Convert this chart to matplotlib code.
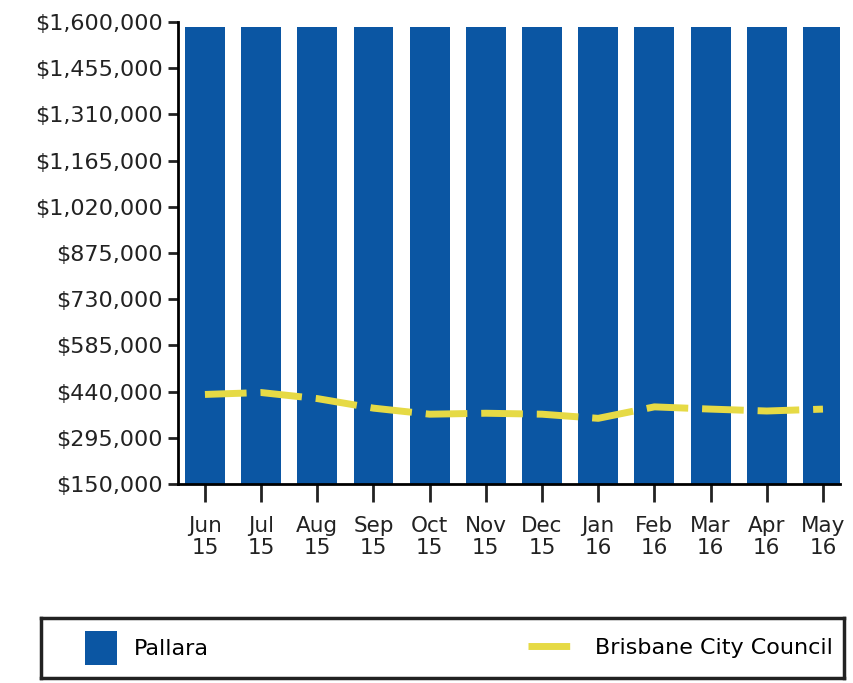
import numpy as np
from matplotlib import pyplot as plt
from matplotlib.ticker import FuncFormatter

months = ['Jun\n15', 'Jul\n15', 'Aug\n15', 'Sep\n15', 'Oct\n15', 'Nov\n15',
          'Dec\n15', 'Jan\n16', 'Feb\n16', 'Mar\n16', 'Apr\n16', 'May\n16']
pallara = [1585000] * 12
brisbane = [431000, 437000, 418000, 388000, 369000, 372000,
            369000, 356000, 392000, 385000, 379000, 385000]
yticks = list(range(150000, 1600001, 145000))

fig = plt.figure(figsize=(8.54, 6.83), dpi=100)
ax = fig.add_axes([0.2084, 0.2914, 0.775, 0.6764])

x = np.arange(len(months))
bars = ax.bar(x, pallara, width=0.71, color='#0b56a3', zorder=2)
line, = ax.plot(x, brisbane, color='#e6da45', lw=5, dashes=(6, 2), zorder=3)

ax.set_ylim(150000, 1600000)
ax.set_xlim(-0.48, 11.3)
ax.set_yticks(yticks)
ax.yaxis.set_major_formatter(FuncFormatter(lambda v, p: '${:,.0f}'.format(v)))
ax.set_xticks(x)
ax.set_xticklabels(months, linespacing=1.1)

for s in ['top', 'right']:
    ax.spines[s].set_visible(False)
for s in ['left', 'bottom']:
    ax.spines[s].set_linewidth(2)
ax.tick_params(axis='y', length=7, width=2, labelsize=16, pad=4, colors='#222222')
ax.tick_params(axis='x', length=13, width=2, labelsize=15.5, pad=10, colors='#222222')

# legend box
lax = fig.add_axes([0.048, 0.007, 0.94, 0.088])
lax.set_xticks([])
lax.set_yticks([])
for s in lax.spines.values():
    s.set_linewidth(2.5)
    s.set_color('#222222')
l1 = lax.legend([bars], ['Pallara'], loc='center left', frameon=False, fontsize=16,
                handlelength=1.4, handleheight=2.0, borderaxespad=1.6)
lax.add_artist(l1)
lax.legend([line], ['Brisbane City Council'], loc='center right', frameon=False,
           fontsize=16, handlelength=2.2, borderaxespad=0.1)

fig.savefig('out.png', dpi=100)
